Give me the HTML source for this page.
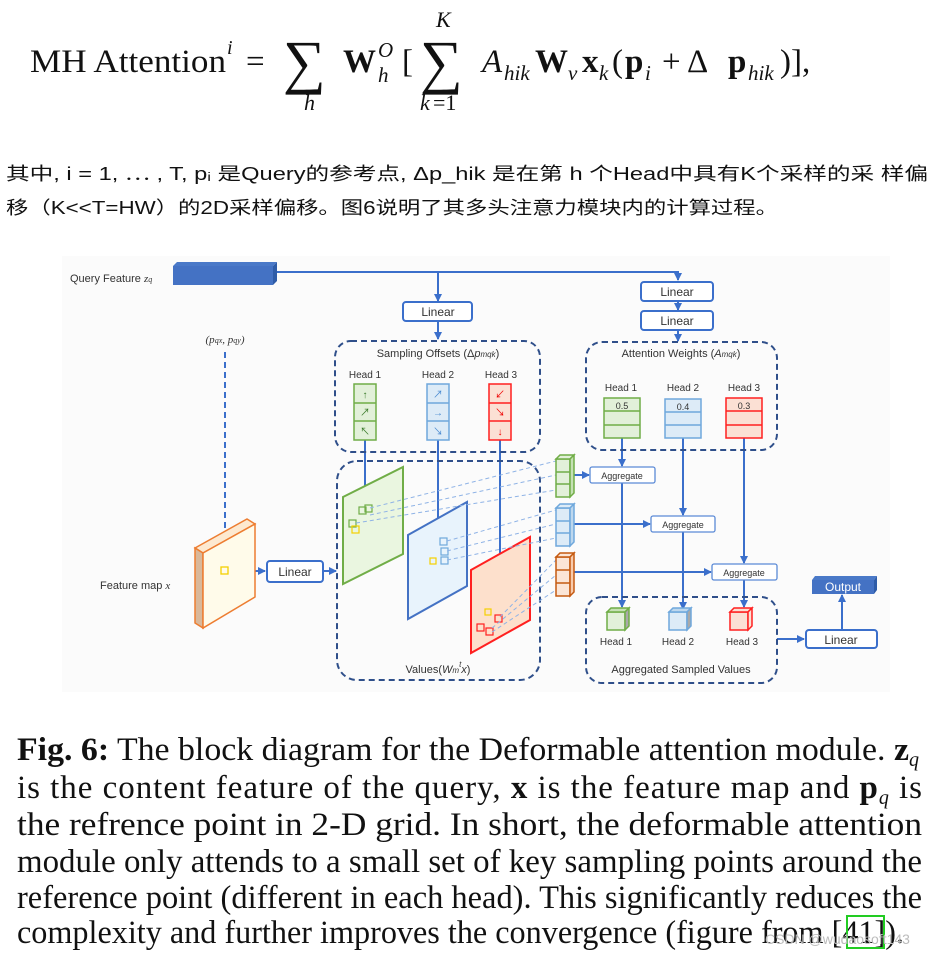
<!DOCTYPE html>
<html><head><meta charset="utf-8"><style>
html,body{margin:0;padding:0;background:#fff;}
svg{display:block;}
.s{font-family:"Liberation Sans","Noto Sans CJK SC",sans-serif;}
.r{font-family:"Liberation Serif",serif;}
</style></head><body>
<svg width="939" height="955" viewBox="0 0 939 955" xmlns="http://www.w3.org/2000/svg">
<defs>
<marker id="a" markerWidth="8" markerHeight="8" refX="7" refY="4" orient="auto" markerUnits="userSpaceOnUse"><path d="M0,0 L8,4 L0,8 z" fill="#3b6fcb"/></marker>
</defs>
<g class="r" fill="#111">
<text x="30" y="72" font-size="33" textLength="196" lengthAdjust="spacingAndGlyphs">MH Attention</text>
<text x="227" y="54" font-size="20" font-style="italic">i</text>
<text x="246" y="72" font-size="33">=</text>
<text x="283" y="82" font-size="60">∑</text>
<text x="304" y="110" font-size="22" font-style="italic">h</text>
<text x="343" y="72" font-size="33" font-weight="bold">W</text>
<text x="378" y="57" font-size="21" font-style="italic">O</text>
<text x="378" y="82" font-size="21" font-style="italic">h</text>
<text x="402" y="72" font-size="33">[</text>
<text x="420" y="82" font-size="60">∑</text>
<text x="436" y="27" font-size="22" font-style="italic">K</text>
<text x="420" y="110" font-size="22" font-style="italic">k</text><text x="433" y="110" font-size="22">=1</text>
<text x="482" y="72" font-size="33" font-style="italic">A</text>
<text x="504" y="80" font-size="21" font-style="italic">hik</text>
<text x="535" y="72" font-size="33" font-weight="bold">W</text>
<text x="568" y="80" font-size="21" font-style="italic">v</text>
<text x="582" y="72" font-size="33" font-weight="bold">x</text>
<text x="599" y="80" font-size="21" font-style="italic">k</text>
<text x="612" y="72" font-size="33">(</text>
<text x="625" y="72" font-size="33" font-weight="bold">p</text>
<text x="645" y="80" font-size="21" font-style="italic">i</text>
<text x="662" y="72" font-size="33">+ Δ</text>
<text x="728" y="72" font-size="33" font-weight="bold">p</text>
<text x="748" y="80" font-size="21" font-style="italic">hik</text>
<text x="780" y="72" font-size="33">)],</text>
</g>
<text class="s" x="6" y="180" font-size="18" fill="#111" textLength="922" lengthAdjust="spacingAndGlyphs">其中, i = 1, ⋯ , T, pᵢ 是Query的参考点, Δp_hik 是在第 h 个Head中具有K个采样的采 样偏</text>
<text class="s" x="6" y="214" font-size="18" fill="#111" textLength="772" lengthAdjust="spacingAndGlyphs">移（K&lt;&lt;T=HW）的2D采样偏移。图6说明了其多头注意力模块内的计算过程。</text>

<rect x="62" y="256" width="828" height="436" fill="#fbfbfb"/>
<g class="s" font-size="11" fill="#333">
<text x="70" y="282">Query Feature <tspan font-style="italic" class="r">z</tspan><tspan font-size="8" class="r" font-style="italic">q</tspan></text>
<text x="225" y="343" text-anchor="middle" class="r" font-style="italic">(p<tspan font-size="8">qx</tspan>, p<tspan font-size="8">qy</tspan>)</text>
<text x="100" y="589">Feature map <tspan class="r" font-style="italic">x</tspan></text>
<text x="438" y="357" text-anchor="middle">Sampling Offsets (Δ<tspan font-style="italic">p</tspan><tspan font-size="8" font-style="italic">mqk</tspan>)</text>
<text x="681" y="357" text-anchor="middle">Attention Weights (<tspan font-style="italic">A</tspan><tspan font-size="8" font-style="italic">mqk</tspan>)</text>
<text x="438" y="673" text-anchor="middle">Values(<tspan font-style="italic">W</tspan><tspan font-size="8" font-style="italic">m</tspan><tspan font-size="8" font-style="italic" dy="-6">t</tspan><tspan font-style="italic" dy="6">x</tspan>)</text>
<text x="681" y="673" text-anchor="middle">Aggregated Sampled Values</text>
</g>
<g class="s" font-size="10" fill="#333" text-anchor="middle">
<text x="365" y="378">Head 1</text><text x="438" y="378">Head 2</text><text x="501" y="378">Head 3</text>
<text x="621" y="391">Head 1</text><text x="683" y="391">Head 2</text><text x="744" y="391">Head 3</text>
<text x="616" y="645">Head 1</text><text x="678" y="645">Head 2</text><text x="742" y="645">Head 3</text>
</g>
<polygon points="173,266 177,262 277,262 273,266" fill="#4a79c8"/>
<polygon points="273,266 277,262 277,281 273,285" fill="#2e5ca8"/>
<rect x="173" y="266" width="100" height="19" fill="#4472c4"/>
<g stroke="#3b6fcb" stroke-width="2" fill="none">
<polyline points="277,272 678,272 678,280" marker-end="url(#a)"/>
<line x1="438" y1="272" x2="438" y2="301" marker-end="url(#a)"/>
<line x1="438" y1="322" x2="438" y2="339" marker-end="url(#a)"/>
<line x1="678" y1="301" x2="678" y2="310" marker-end="url(#a)"/>
<line x1="678" y1="330" x2="678" y2="341" marker-end="url(#a)"/>
<line x1="230" y1="571" x2="265" y2="571" marker-end="url(#a)"/>
<line x1="324" y1="571" x2="336" y2="571" marker-end="url(#a)"/>
<line x1="365" y1="440" x2="365" y2="505" marker-end="url(#a)"/>
<line x1="438" y1="440" x2="438" y2="544" marker-end="url(#a)"/>
<line x1="500" y1="440" x2="500" y2="603" marker-end="url(#a)"/>
<line x1="622" y1="438" x2="622" y2="466" marker-end="url(#a)"/>
<line x1="683" y1="438" x2="683" y2="515" marker-end="url(#a)"/>
<line x1="744" y1="438" x2="744" y2="563" marker-end="url(#a)"/>
<line x1="622" y1="483" x2="622" y2="607" marker-end="url(#a)"/>
<line x1="683" y1="532" x2="683" y2="609" marker-end="url(#a)"/>
<line x1="744" y1="580" x2="744" y2="607" marker-end="url(#a)"/>
<line x1="574" y1="475" x2="589" y2="475" marker-end="url(#a)"/>
<line x1="574" y1="524" x2="650" y2="524" marker-end="url(#a)"/>
<line x1="574" y1="572" x2="711" y2="572" marker-end="url(#a)"/>
<line x1="777" y1="639" x2="804" y2="639" marker-end="url(#a)"/>
<line x1="842" y1="630" x2="842" y2="595" marker-end="url(#a)"/>
</g>
<line x1="225" y1="352" x2="225" y2="562" stroke="#3b6fcb" stroke-width="2" stroke-dasharray="6,4"/>
<g fill="#fff" stroke="#3b6fcb" stroke-width="2">
<rect x="403" y="302" width="69" height="19" rx="3"/>
<rect x="641" y="282" width="72" height="19" rx="3"/>
<rect x="641" y="311" width="72" height="19" rx="3"/>
<rect x="267" y="561" width="56" height="21" rx="3"/>
<rect x="806" y="630" width="71" height="18" rx="3"/>
</g>
<g class="s" font-size="12" fill="#333" text-anchor="middle">
<text x="438" y="316">Linear</text><text x="677" y="296">Linear</text><text x="677" y="325">Linear</text>
<text x="295" y="576">Linear</text><text x="841" y="644">Linear</text>
</g>
<g fill="#fff" stroke="#5b8ad6" stroke-width="1.3">
<rect x="590" y="467" width="65" height="16" rx="2"/>
<rect x="651" y="516" width="64" height="16" rx="2"/>
<rect x="712" y="564" width="65" height="16" rx="2"/>
</g>
<g class="s" font-size="9" fill="#333" text-anchor="middle">
<text x="622" y="479">Aggregate</text><text x="683" y="528">Aggregate</text><text x="744" y="576">Aggregate</text>
</g>
<polygon points="812,580 815,576 877,576 874,580" fill="#4a79c8"/>
<polygon points="874,580 877,576 877,590 874,594" fill="#2e5ca8"/>
<rect x="812" y="580" width="62" height="14" fill="#4472c4"/>
<text class="s" x="843" y="591" font-size="12" fill="#fff" text-anchor="middle">Output</text>
<g fill="none" stroke="#2f4f8a" stroke-width="2" stroke-dasharray="6,4">
<rect x="335" y="341" width="205" height="111" rx="16"/>
<rect x="337" y="461" width="203" height="219" rx="20"/>
<rect x="586" y="342" width="191" height="108" rx="16"/>
<rect x="586" y="597" width="191" height="86" rx="16"/>
</g>
<g stroke-width="1.5">
<rect x="354" y="384" width="22" height="56" fill="#e2f0d9" stroke="#70ad47"/>
<line x1="354" y1="403" x2="376" y2="403" stroke="#70ad47"/><line x1="354" y1="421" x2="376" y2="421" stroke="#70ad47"/>
<rect x="427" y="384" width="22" height="56" fill="#ddebf7" stroke="#6fa8dc"/>
<line x1="427" y1="403" x2="449" y2="403" stroke="#6fa8dc"/><line x1="427" y1="421" x2="449" y2="421" stroke="#6fa8dc"/>
<rect x="489" y="384" width="22" height="56" fill="#fbe0d4" stroke="#ff2020"/>
<line x1="489" y1="403" x2="511" y2="403" stroke="#ff2020"/><line x1="489" y1="421" x2="511" y2="421" stroke="#ff2020"/>
</g>
<g class="s" font-size="10" text-anchor="middle">
<text x="365" y="398" fill="#3a7a2a">↑</text><text x="365" y="416" fill="#3a7a2a">↗</text><text x="365" y="435" fill="#3a7a2a">↖</text>
<text x="438" y="398" fill="#4a8ad0">↗</text><text x="438" y="416" fill="#4a8ad0">→</text><text x="438" y="435" fill="#4a8ad0">↘</text>
<text x="500" y="398" fill="#e00">↙</text><text x="500" y="416" fill="#e00">↘</text><text x="500" y="435" fill="#e00">↓</text>
</g>
<g stroke-width="1.5">
<rect x="604" y="398" width="36" height="40" fill="#e2f0d9" stroke="#70ad47"/>
<line x1="604" y1="411" x2="640" y2="411" stroke="#70ad47"/><line x1="604" y1="425" x2="640" y2="425" stroke="#70ad47"/>
<rect x="665" y="399" width="36" height="39" fill="#ddebf7" stroke="#6fa8dc"/>
<line x1="665" y1="412" x2="701" y2="412" stroke="#6fa8dc"/><line x1="665" y1="425" x2="701" y2="425" stroke="#6fa8dc"/>
<rect x="726" y="398" width="36" height="40" fill="#fbe0d4" stroke="#ff2020"/>
<line x1="726" y1="411" x2="762" y2="411" stroke="#ff2020"/><line x1="726" y1="425" x2="762" y2="425" stroke="#ff2020"/>
</g>
<g class="s" font-size="9" fill="#333" text-anchor="middle">
<text x="622" y="409">0.5</text><text x="683" y="410">0.4</text><text x="744" y="409">0.3</text>
</g>
<polygon points="195,548 247,519 255,524 203,553" fill="#fde9d0" stroke="#ed7d31" stroke-width="1.5"/>
<polygon points="195,548 203,553 203,628 195,623" fill="#d9b89a" stroke="#ed7d31" stroke-width="1.5"/>
<polygon points="203,553 255,524 255,597 203,628" fill="#fffbea" stroke="#ed7d31" stroke-width="1.5"/>
<rect x="221" y="567" width="7" height="7" fill="none" stroke="#f5d000" stroke-width="1.3"/>
<polygon points="343,497 403,467 403,554 343,584" fill="#eaf6e0" stroke="#70ad47" stroke-width="2"/>
<polygon points="408,535 467,502 467,586 408,619" fill="#e8f3fc" stroke="#4472c4" stroke-width="2"/>
<polygon points="471,570 530,537 530,620 471,653" fill="#fde0cc" stroke="#ff2020" stroke-width="2"/>
<g fill="none" stroke-width="1.2">
<rect x="359" y="507" width="7" height="7" stroke="#70ad47"/><rect x="365" y="505" width="7" height="7" stroke="#70ad47"/><rect x="349" y="520" width="7" height="7" stroke="#70ad47"/><rect x="352" y="526" width="7" height="7" stroke="#f5d000"/>
<rect x="440" y="538" width="7" height="7" stroke="#6fa8dc"/><rect x="441" y="548" width="7" height="7" stroke="#6fa8dc"/><rect x="441" y="557" width="7" height="7" stroke="#6fa8dc"/><rect x="430" y="558" width="6" height="6" stroke="#f5d000"/>
<rect x="485" y="609" width="6" height="6" stroke="#f5d000"/><rect x="495" y="615" width="7" height="7" stroke="#ff2020"/><rect x="477" y="624" width="7" height="7" stroke="#ff2020"/><rect x="486" y="628" width="7" height="7" stroke="#ff2020"/>
</g>
<g stroke="#8fb3e6" stroke-width="1" stroke-dasharray="4,3">
<line x1="370" y1="508" x2="556" y2="461"/><line x1="370" y1="515" x2="556" y2="475"/><line x1="356" y1="523" x2="556" y2="490"/>
<line x1="447" y1="541" x2="556" y2="510"/><line x1="447" y1="551" x2="556" y2="524"/><line x1="447" y1="560" x2="556" y2="538"/>
<line x1="500" y1="617" x2="556" y2="560"/><line x1="492" y1="628" x2="556" y2="575"/><line x1="492" y1="632" x2="556" y2="590"/>
</g>
<g stroke-width="1.5">
<g stroke="#70ad47" fill="#e2f0d9"><rect x="556" y="459" width="14" height="38"/><polygon points="556,459 560,455 574,455 570,459"/><polygon points="570,459 574,455 574,493 570,497" fill="#c5e0b4"/><line x1="556" y1="472" x2="570" y2="472"/><line x1="556" y1="484" x2="570" y2="484"/></g>
<g stroke="#6fa8dc" fill="#ddebf7"><rect x="556" y="508" width="14" height="38"/><polygon points="556,508 560,504 574,504 570,508"/><polygon points="570,508 574,504 574,542 570,546" fill="#bdd7ee"/><line x1="556" y1="521" x2="570" y2="521"/><line x1="556" y1="533" x2="570" y2="533"/></g>
<g stroke="#c55a11" fill="#fbe5d6"><rect x="556" y="557" width="14" height="39"/><polygon points="556,557 560,553 574,553 570,557"/><polygon points="570,557 574,553 574,592 570,596" fill="#f8cbad"/><line x1="556" y1="570" x2="570" y2="570"/><line x1="556" y1="583" x2="570" y2="583"/></g>
</g>
<g stroke-width="1.5">
<g stroke="#70ad47"><rect x="607" y="612" width="18" height="18" fill="#e2f0d9"/><polygon points="607,612 611,608 629,608 625,612" fill="#c5e0b4"/><polygon points="625,612 629,608 629,626 625,630" fill="#a9a9a9"/></g>
<g stroke="#6fa8dc"><rect x="669" y="612" width="18" height="18" fill="#ddebf7"/><polygon points="669,612 673,608 691,608 687,612" fill="#bdd7ee"/><polygon points="687,612 691,608 691,626 687,630" fill="#a9a9a9"/></g>
<g stroke="#ff2020"><rect x="730" y="612" width="18" height="18" fill="#fbe0d4"/><polygon points="730,612 734,608 752,608 748,612" fill="#fbe0d4"/><polygon points="748,612 752,608 752,626 748,630" fill="#fbe0d4"/></g>
</g>
<g class="r" font-size="33" fill="#111">
<text x="17" y="760" textLength="892" lengthAdjust="spacingAndGlyphs"><tspan font-weight="bold">Fig. 6:</tspan> The block diagram for the Deformable attention module. <tspan font-weight="bold">z</tspan></text>
<text x="909" y="766" font-size="20" font-style="italic">q</text>
<text x="17" y="798" textLength="905" lengthAdjust="spacing">is the content feature of the query, <tspan font-weight="bold">x</tspan> is the feature map and <tspan font-weight="bold">p</tspan><tspan font-size="20" font-style="italic" dy="6">q</tspan><tspan dy="-6"> is</tspan></text>
<text x="17" y="835" textLength="905" lengthAdjust="spacingAndGlyphs">the refrence point in 2-D grid. In short, the deformable attention</text>
<text x="17" y="872" textLength="905" lengthAdjust="spacingAndGlyphs">module only attends to a small set of key sampling points around the</text>
<text x="17" y="908" textLength="905" lengthAdjust="spacingAndGlyphs">reference point (different in each head). This significantly reduces the</text>
<text x="17" y="943" textLength="887" lengthAdjust="spacingAndGlyphs">complexity and further improves the convergence (figure from [41]).</text>
</g>
<rect x="847" y="916" width="37" height="32" fill="none" stroke="#22cc22" stroke-width="2"/>
<text class="s" x="765" y="944" font-size="14" fill="#bbb">CSDN @wudaosoft143</text>
</svg>
</body></html>
